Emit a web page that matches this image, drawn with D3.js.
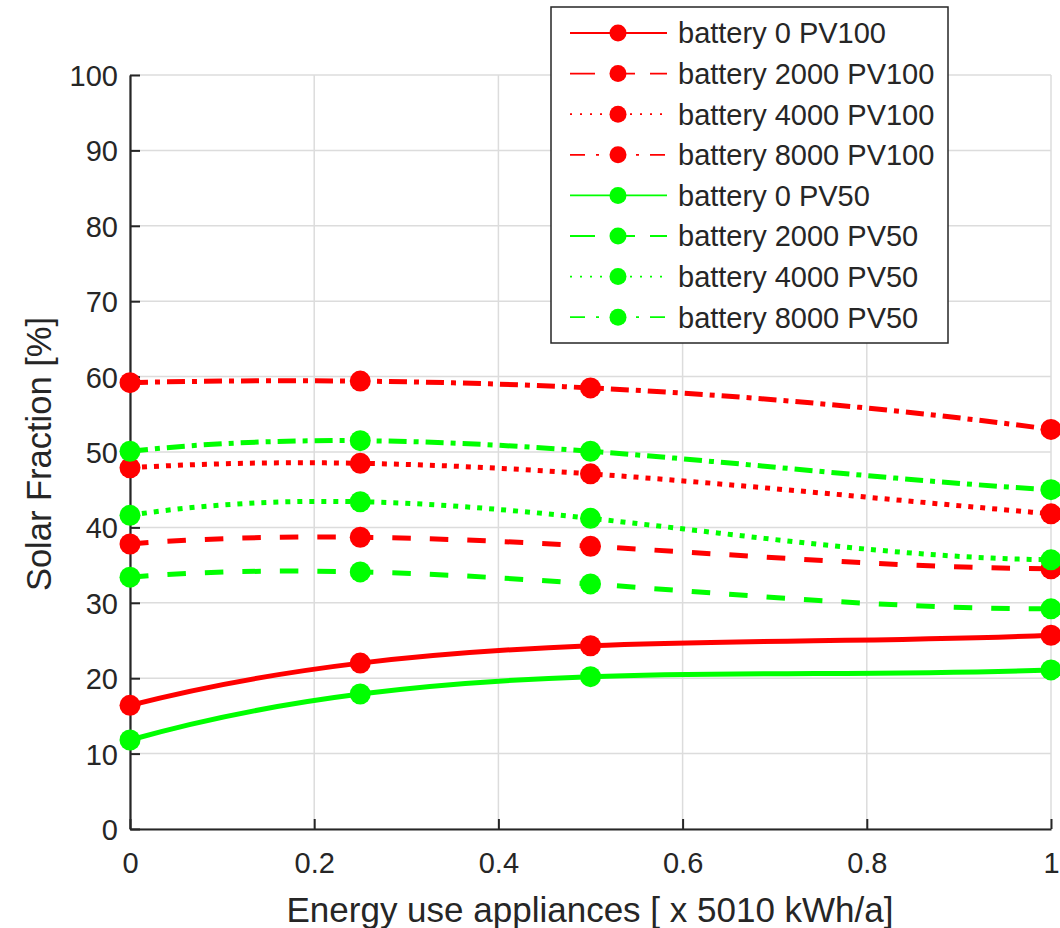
<!DOCTYPE html>
<html>
<head>
<meta charset="utf-8">
<script src="https://cdn.jsdelivr.net/npm/d3@7"></script>
<style>
  html, body { margin: 0; padding: 0; background: #ffffff; }
  svg { display: block; }
  text { font-family: "Liberation Sans", Arial, sans-serif; fill: #262626; }
</style>
</head>
<body>
<script>
// ---- data ----
const xValues = [0, 0.25, 0.5, 1];
const seriesNames = [
  "battery 0 PV100", "battery 2000 PV100", "battery 4000 PV100", "battery 8000 PV100",
  "battery 0 PV50", "battery 2000 PV50", "battery 4000 PV50", "battery 8000 PV50"
];
const bat0PV100    = [16.4, 22.0, 24.3, 25.7];
const bat2000PV100 = [37.8, 38.7, 37.5, 34.5];
const bat4000PV100 = [47.9, 48.5, 47.1, 41.8];
const bat8000PV100 = [59.2, 59.4, 58.5, 53.0];
const bat0PV50     = [11.8, 17.9, 20.2, 21.1];
const bat2000PV50  = [33.4, 34.1, 32.5, 29.2];
const bat4000PV50  = [41.6, 43.4, 41.2, 35.7];
const bat8000PV50  = [50.1, 51.5, 50.1, 45.0];
const seriesValues = [bat0PV100, bat2000PV100, bat4000PV100, bat8000PV100,
                      bat0PV50, bat2000PV50, bat4000PV50, bat8000PV50];
const xTicks = [0, 0.2, 0.4, 0.6, 0.8, 1];
const yTicks = [0, 10, 20, 30, 40, 50, 60, 70, 80, 90, 100];
const xLabel = "Energy use appliances [ x 5010 kWh/a]";
const yLabel = "Solar Fraction [%]";

// ---- styles ----
const colors = ["#ff0000","#ff0000","#ff0000","#ff0000","#00ff00","#00ff00","#00ff00","#00ff00"];
const styles = ["solid","dashed","dotted","dashdot","solid","dashed","dotted","dashdot"];
const plotDash = { solid: null, dashed: "18.5,19", dotted: "5,7", dashdot: "18,7,5,7" };
const legDash  = { solid: null, dashed: "25,15", dotted: "2,8", dashdot: "15,11,3,11" };

const W = 1060, H = 928;
const L = 130, R = 1051, T = 75, B = 829;

// Custom d3 curve: polynomial interpolation through all points (equals a
// not-a-knot spline for 4 points), drawn as exact cubic Bezier segments.
function CurvePoly(context) { this._context = context; }
CurvePoly.prototype = {
  areaStart() {}, areaEnd() {},
  lineStart() { this._x = []; this._y = []; },
  point(px, py) { this._x.push(+px); this._y.push(+py); },
  lineEnd() {
    const X = this._x, Y = this._y, n = X.length, c = this._context;
    if (!n) return;
    const deriv = t => {
      let s = 0;
      for (let i = 0; i < n; i++) {
        let denom = 1;
        for (let j = 0; j < n; j++) if (j !== i) denom *= (X[i] - X[j]);
        let dsum = 0;
        for (let k = 0; k < n; k++) {
          if (k === i) continue;
          let prod = 1;
          for (let j = 0; j < n; j++) if (j !== i && j !== k) prod *= (t - X[j]);
          dsum += prod;
        }
        s += Y[i] * dsum / denom;
      }
      return s;
    };
    c.moveTo(X[0], Y[0]);
    for (let i = 0; i < n - 1; i++) {
      const h = X[i + 1] - X[i];
      const m0 = deriv(X[i]), m1 = deriv(X[i + 1]);
      c.bezierCurveTo(X[i] + h / 3, Y[i] + m0 * h / 3,
                      X[i + 1] - h / 3, Y[i + 1] - m1 * h / 3,
                      X[i + 1], Y[i + 1]);
    }
  }
};
const curvePoly = context => new CurvePoly(context);

const svg = d3.select("body").append("svg").attr("width", W).attr("height", H);

const x = d3.scaleLinear().domain([0, 1]).range([L, R]);
const y = d3.scaleLinear().domain([0, 100]).range([B, T]);

// grid
const grid = svg.append("g");
grid.selectAll("line.gx").data(xTicks).enter().append("line")
  .attr("x1", d => x(d)).attr("x2", d => x(d)).attr("y1", T).attr("y2", B)
  .attr("stroke", "#dcdcdc").attr("stroke-width", 1.5);
grid.selectAll("line.gy").data(yTicks).enter().append("line")
  .attr("x1", L).attr("x2", R).attr("y1", d => y(d)).attr("y2", d => y(d))
  .attr("stroke", "#dcdcdc").attr("stroke-width", 1.5);

// axes
const axisColor = "#262626";
const gx = svg.append("g").attr("transform", `translate(0,${B})`)
  .call(d3.axisBottom(x).tickValues(xTicks).tickSizeInner(-10).tickSizeOuter(0).tickPadding(0)
        .tickFormat(d => d3.format("~g")(d)));
gx.select(".domain").attr("stroke", axisColor).attr("stroke-width", 2.2);
gx.selectAll(".tick line").attr("stroke", axisColor).attr("stroke-width", 2);
gx.selectAll(".tick text").attr("font-size", 29).attr("y", 0).attr("dy", 44)
  .attr("font-family", "Liberation Sans, Arial, sans-serif").attr("fill", "#262626");

const gy = svg.append("g").attr("transform", `translate(${L},0)`)
  .call(d3.axisLeft(y).tickValues(yTicks).tickSizeInner(-10).tickSizeOuter(0).tickPadding(0));
gy.select(".domain").attr("stroke", axisColor).attr("stroke-width", 2.2);
gy.selectAll(".tick line").attr("stroke", axisColor).attr("stroke-width", 2);
gy.selectAll(".tick text").attr("font-size", 29).attr("x", -12).attr("dy", "0.36em")
  .attr("font-family", "Liberation Sans, Arial, sans-serif").attr("fill", "#262626");

// labels
svg.append("text").attr("x", 590).attr("y", 922).attr("text-anchor", "middle")
  .attr("font-size", 35).text(xLabel);
svg.append("text").attr("transform", "translate(51,454) rotate(-90)").attr("text-anchor", "middle")
  .attr("font-size", 34.5).text(yLabel);

// series
const line = d3.line().x(d => x(d[0])).y(d => y(d[1])).curve(curvePoly);
seriesValues.forEach((vals, i) => {
  const pts = xValues.map((xv, j) => [xv, vals[j]]);
  const g = svg.append("g");
  g.append("path").attr("d", line(pts)).attr("fill", "none")
    .attr("stroke", colors[i]).attr("stroke-width", 5)
    .attr("stroke-dasharray", plotDash[styles[i]]);
  g.selectAll("circle").data(pts).enter().append("circle")
    .attr("cx", d => x(d[0])).attr("cy", d => y(d[1])).attr("r", 10.5)
    .attr("fill", colors[i]);
});

// legend
const lg = svg.append("g");
lg.append("rect").attr("x", 551).attr("y", 7).attr("width", 397).attr("height", 336)
  .attr("fill", "#ffffff").attr("stroke", "#262626").attr("stroke-width", 1.5);
seriesNames.forEach((name, i) => {
  const cy = 33 + i * 40.6;
  lg.append("line").attr("x1", 570).attr("x2", 667).attr("y1", cy).attr("y2", cy)
    .attr("stroke", colors[i]).attr("stroke-width", 1.8)
    .attr("stroke-dasharray", legDash[styles[i]]);
  lg.append("circle").attr("cx", 618).attr("cy", cy).attr("r", 8.5).attr("fill", colors[i]);
  lg.append("text").attr("x", 678).attr("y", cy).attr("dy", "0.36em")
    .attr("font-size", 29).attr("fill", "#000").text(name);
});
</script>
</body>
</html>
